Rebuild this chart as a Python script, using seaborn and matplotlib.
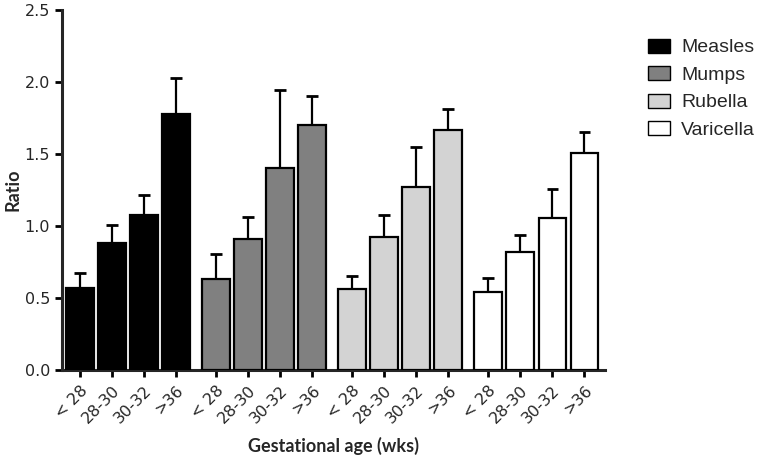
import numpy as np
import pandas as pd
import seaborn as sns
from matplotlib import pyplot as plt

# ----------------------------------------------------------------------------------------------------------------------
#   Dados
# ----------------------------------------------------------------------------------------------------------------------
viruses = ["Measles", "Mumps", "Rubella", "Varicella"]
ages = ["< 28", "28-30", "30-32", ">36"]

measles = [0.57, 0.88, 1.075, 1.775]
measles_top = [0.675, 1.01, 1.215, 2.025]
mumps = [0.63, 0.91, 1.40, 1.705]
mumps_top = [0.805, 1.065, 1.945, 1.90]
rubella = [0.56, 0.925, 1.27, 1.665]
rubella_top = [0.655, 1.075, 1.55, 1.815]
varicella = [0.54, 0.82, 1.055, 1.51]
varicella_top = [0.64, 0.94, 1.255, 1.65]

colors = ["#000000", "#808080", "#d3d3d3", "#ffffff"]

# ----------------------------------------------------------------------------------------------------------------------

sns.set_style("ticks")
plt.rcParams['font.family'] = ['DejaVu Sans']

means = [measles, mumps, rubella, varicella]
tops = [measles_top, mumps_top, rubella_top, varicella_top]

rows = []
for g, name in enumerate(viruses):
    for i, age in enumerate(ages):
        rows.append({"pos": g * 4.25 + i, "virus": name, "age": age,
                     "ratio": means[g][i], "top": tops[g][i]})
df = pd.DataFrame(rows)

fig = plt.figure(figsize=(7.58, 4.58), dpi=100)
ax = fig.add_axes([0.0818, 0.192, 0.7165, 0.786])

sns.barplot(data=df, x="pos", y="ratio", hue="virus", hue_order=viruses,
            palette=colors, native_scale=True, dodge=False, width=0.86,
            errorbar=None, edgecolor="black", linewidth=1.6, ax=ax, zorder=3)

# barras de erro so para cima
ax.errorbar(df["pos"], df["top"], yerr=[df["top"] - df["ratio"], np.zeros(len(df))],
            fmt="none", ecolor="black", elinewidth=1.6, capsize=0, zorder=2)
ax.errorbar(df["pos"], df["top"], xerr=0.18, fmt="none", ecolor="black",
            elinewidth=2.0, capsize=0, zorder=2)

ax.set_xlim(-0.56, 16.4)
ax.set_ylim(0, 2.5)
ax.set_yticks(np.arange(0, 2.51, 0.5))
ax.set_yticklabels(["{:.1f}".format(v) for v in np.arange(0, 2.51, 0.5)], fontsize=11.5)
ax.set_xticks(df["pos"])
ax.set_xticklabels(df["age"], rotation=45, ha="right", rotation_mode="anchor", fontsize=11.5)
ax.tick_params(axis="both", width=2, length=5, color="black")
ax.tick_params(axis="x", pad=4)

for side in ["left", "bottom"]:
    ax.spines[side].set_linewidth(2.2)
sns.despine(ax=ax)

ax.set_ylabel("Ratio", fontsize=13, fontweight="bold", family="Lato")
ax.yaxis.label.set_rotation_mode("default")
ax.yaxis.label.set_va("center")
ax.yaxis.label.set_ha("center")
ax.yaxis.set_label_coords(-0.09, 0.5)
ax.set_xlabel("Gestational age (wks)", fontsize=13, fontweight="bold", family="Lato", labelpad=8)

leg = ax.legend(loc="upper left", bbox_to_anchor=(1.079, 0.921), frameon=False,
                borderpad=0, borderaxespad=0,
                prop={"family": "Liberation Sans", "size": 14},
                handlelength=1.15, handleheight=0.74, handletextpad=0.55, labelspacing=0.5)
for p in leg.get_patches():
    p.set_linewidth(1.0)

fig.savefig("out.png", dpi=100)
